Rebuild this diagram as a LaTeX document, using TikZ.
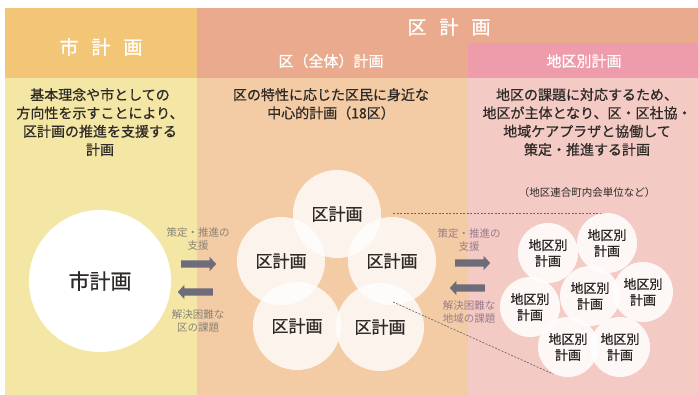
\documentclass[tikz,border=0pt]{standalone}
\usepackage{fontspec}
\setmainfont{Noto Sans CJK JP}
\newfontfamily\medjp{Noto Sans CJK JP}[FakeBold=0.7]
\newfontfamily\boldjp{Noto Sans CJK JP}[FakeBold=1.2]
\usetikzlibrary{shapes.arrows}
\definecolor{lhead}{HTML}{F2C676}
\definecolor{lbody}{HTML}{F4E6A4}
\definecolor{mhead}{HTML}{EAAA8E}
\definecolor{rhead}{HTML}{EE9CAB}
\definecolor{mbody}{HTML}{F3CBA4}
\definecolor{rbody}{HTML}{F3CAC4}
\definecolor{txt}{HTML}{2E2A28}
\definecolor{arrowgray}{HTML}{6E6C7A}
\definecolor{lbl}{HTML}{8A8478}
\definecolor{mlbl}{HTML}{9A7C8C}
\definecolor{dashc}{HTML}{6A6A6A}
\tikzset{
  headtxt/.style={text=white, font=\boldjp\fontsize{19}{20}\selectfont},
  subtxt/.style={text=white, font=\medjp\fontsize{15}{16}\selectfont},
  desc/.style={text=txt, align=center, font=\medjp\fontsize{14}{18.3}\selectfont, inner sep=0pt},
  bigcircle/.style={circle, fill=white, minimum size=142pt, inner sep=0pt, text=txt, font=\medjp\fontsize{21}{22}\selectfont},
  kucircle/.style={circle, fill=white, fill opacity=0.8, text opacity=1, minimum size=88pt, inner sep=0pt, text=txt, font=\medjp\fontsize{17}{18}\selectfont},
  chikucircle/.style={circle, fill=white, fill opacity=0.85, text opacity=1, minimum size=60pt, inner sep=0pt, text=txt, align=center, font=\medjp\fontsize{13}{16}\selectfont},
  blockarrow/.style={single arrow, fill=arrowgray, minimum height=35pt, inner xsep=0pt, inner ysep=3.5pt, single arrow head extend=3.5pt, single arrow tip angle=95},
  smalllbl/.style={align=center, font=\fontsize{10.5}{13}\selectfont, inner sep=0pt},
  zoomline/.style={draw=dashc, line width=0.7pt, dash pattern=on 2pt off 1.5pt},
}
\begin{document}
\begin{tikzpicture}[x=1pt,y=-1pt]
\useasboundingbox (0,0) rectangle (698,395);
\fill[white] (0,0) rectangle (698,395);
% backgrounds
\fill[lhead] (5,8) rectangle (197,78);
\fill[lbody] (5,78) rectangle (197,395);
\fill[mhead] (197,8) rectangle (698,43);
\fill[mhead] (197,43) rectangle (468,78);
\fill[rhead] (468,43) rectangle (698,78);
\fill[mbody] (197,78) rectangle (468,395);
\fill[rbody] (468,78) rectangle (698,395);
% headers
\node[headtxt] (hshi) at (101,47) {市\hspace{13pt}計\hspace{13pt}画};
\node[headtxt] (hku) at (449,27) {区\hspace{13pt}計\hspace{13pt}画};
\node[subtxt] (hkuall) at (331,61) {区（全体）計画};
\node[subtxt] (hchiku) at (584,61) {地区別計画};
% descriptions
\node[desc, anchor=north] (dshi) at (100,88) {基本理念や市としての\\方向性を示すことにより、\\区計画の推進を支援する\\計画};
\node[desc, anchor=north] (dku) at (331,88) {区の特性に応じた区民に身近な\\中心的計画（18区）};
\node[desc, anchor=north] (dchiku) at (587,88) {地区の課題に対応するため、\\地区が主体となり、区・区社協・\\地域ケアプラザと協働して\\策定・推進する計画};
\node[text=txt, font=\fontsize{10.5}{12}\selectfont] (unit) at (587,193) {（地区連合町内会単位など）};
% city circle
\node[bigcircle] (shi) at (100,281) {市計画};
% left arrows
\node[smalllbl, text=lbl] (l1) at (198,239) {策定・推進の\\支援};
\node[blockarrow] (a1) at (197,264) {};
\node[blockarrow, shape border rotate=180] (a2) at (197,292) {};
\node[smalllbl, text=lbl] (l2) at (198,321) {解決困難な\\区の課題};
% ward circles
\node[kucircle] (k1) at (337,214) {区計画};
\node[kucircle] (k2) at (281,261) {区計画};
\node[kucircle] (k3) at (392,261) {区計画};
\node[kucircle] (k4) at (297,326) {区計画};
\node[kucircle] (k5) at (380,327) {区計画};
% zoom lines
\coordinate (z1s) at (393,213);
\coordinate (z1e) at (606,213);
\coordinate (z2s) at (393,302);
\coordinate (z2e) at (553,374);
\draw[zoomline] (z1s) -- (z1e);
\draw[zoomline] (z2s) -- (z2e);
% middle arrows
\node[smalllbl, text=mlbl] (m1) at (469,240) {策定・推進の\\支援};
\node[blockarrow] (a3) at (471,263) {};
\node[blockarrow, shape border rotate=180] (a4) at (469,288) {};
\node[smalllbl, text=mlbl] (m2) at (469,312) {解決困難な\\地域の課題};
% district circles
\node[chikucircle] (c1) at (548,253) {地区別\\計画};
\node[chikucircle] (c2) at (607,243) {地区別\\計画};
\node[chikucircle] (c3) at (643,292) {地区別\\計画};
\node[chikucircle] (c5) at (530,307) {地区別\\計画};
\node[chikucircle] (c4) at (590,296) {地区別\\計画};
\node[chikucircle] (c6) at (568,347) {地区別\\計画};
\node[chikucircle] (c7) at (620,347) {地区別\\計画};
\end{tikzpicture}
\end{document}
